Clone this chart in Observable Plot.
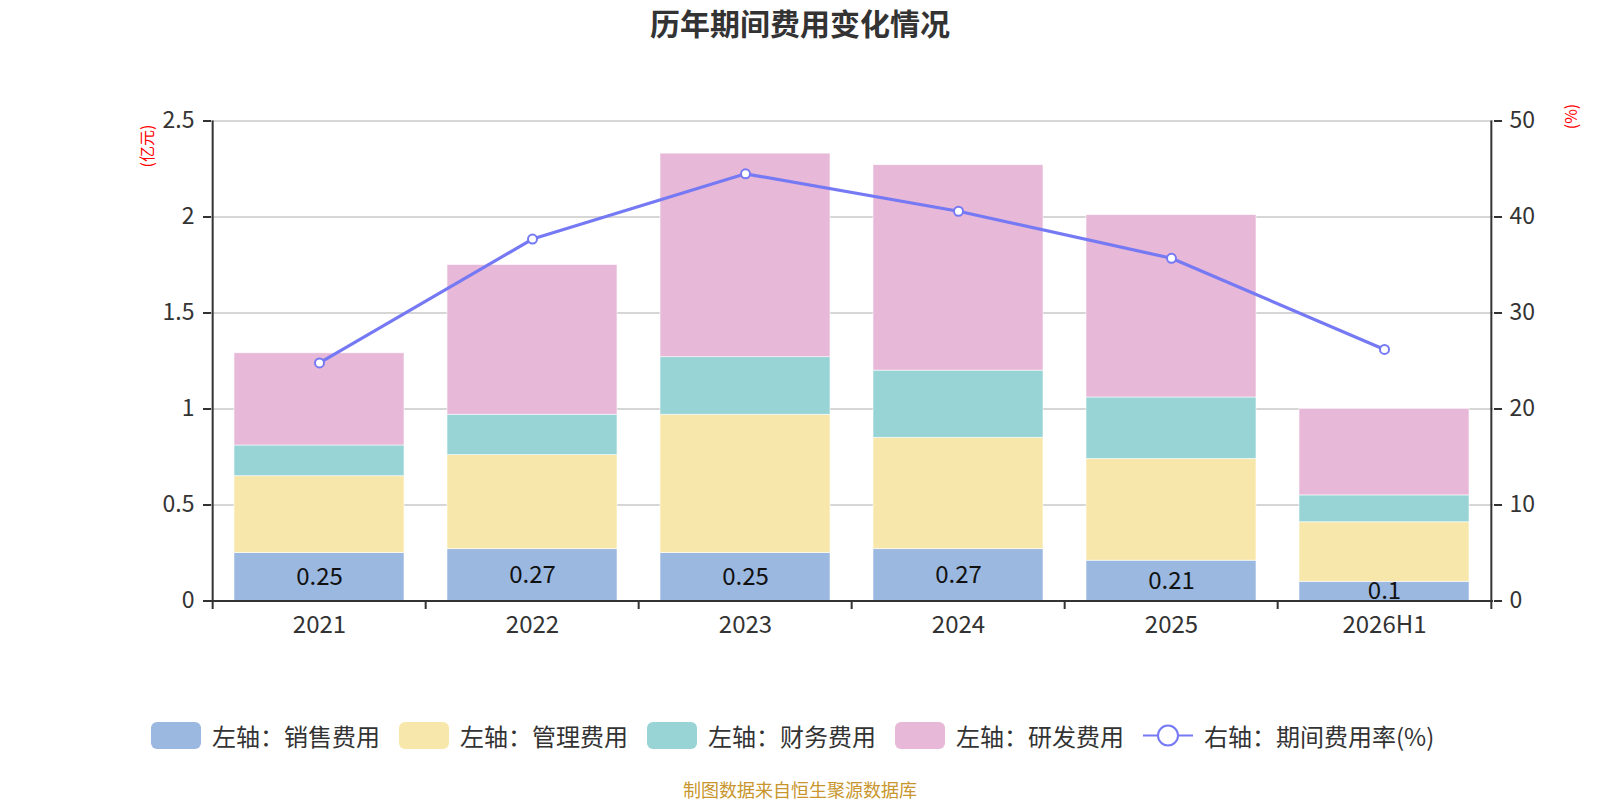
<!DOCTYPE html>
<html>
<head>
<meta charset="utf-8">
<script src="https://cdn.jsdelivr.net/npm/d3@7"></script>
<script src="https://cdn.jsdelivr.net/npm/@observablehq/plot@0.6"></script>
<style>
  html, body { margin: 0; padding: 0; background: #fff; }
  body { width: 1600px; height: 800px; position: relative; overflow: hidden;
         font-family: "Noto Sans CJK SC", "Noto Sans", sans-serif; color: #333; }
  #title { position: absolute; left: 0; top: 0; width: 1600px; height: 45px; line-height: 45px;
           text-align: center; font-size: 30px; font-weight: bold; color: #333; }
  #chart { position: absolute; left: 0; top: 46px; }
  #legend { position: absolute; left: 151px; top: 722px; height: 27px; display: flex; align-items: center; }
  .item { display: flex; align-items: center; margin-right: 19px; font-size: 24px; color: #333; }
  .sw { width: 50px; height: 27px; border-radius: 6px; margin-right: 11px; }
  .lineicon { width: 50px; height: 27px; margin-right: 11px; }
  #caption { position: absolute; left: 0; width: 1600px; top: 777px; text-align: center;
             font-size: 18px; color: #c8962d; line-height: 24px; }
</style>
</head>
<body>
<div id="title">历年期间费用变化情况</div>
<div id="chart"></div>
<div id="legend"></div>
<div id="caption">制图数据来自恒生聚源数据库</div>
<script>
const categories = ["2021", "2022", "2023", "2024", "2025", "2026H1"];
const sales   = [0.25, 0.27, 0.25, 0.27, 0.21, 0.10];
const admin   = [0.40, 0.49, 0.72, 0.58, 0.53, 0.31];
const finance = [0.16, 0.21, 0.30, 0.35, 0.32, 0.14];
const rd      = [0.48, 0.78, 1.06, 1.07, 0.95, 0.45];
const rate    = [24.8, 37.7, 44.5, 40.6, 35.7, 26.2];

const seriesNames = ["左轴：销售费用", "左轴：管理费用", "左轴：财务费用", "左轴：研发费用"];
const seriesColors = ["#9bb8e0", "#f8e7aa", "#98d4d5", "#e7b8d7"];
const lineName = "右轴：期间费用率(%)";
const lineColor = "#7679f4";
const leftTicks = [0, 0.5, 1, 1.5, 2, 2.5];
const leftUnit = "(亿元)";
const rightUnit = "(%)";

const seriesValues = [sales, admin, finance, rd];
const stacked = [];
seriesNames.forEach((name, s) => {
  categories.forEach((c, i) => stacked.push({year: c, series: name, value: seriesValues[s][i]}));
});
const rows = categories.map((c, i) => ({year: c, sales: sales[i], rate: rate[i]}));

const W = 1600, H = 600;
const mL = 211, mR = 107, mT = 74.5, mB = 45.5;
const plotH = H - mT - mB;
const step = (W - mL - mR) / categories.length;
const k = 2.5 / 50; // right axis → left axis
const last = categories[categories.length - 1];

const chart = Plot.plot({
  width: W, height: H,
  marginLeft: mL, marginRight: mR, marginTop: mT, marginBottom: mB,
  style: {fontFamily: '"Noto Sans CJK SC", "Noto Sans", sans-serif', color: "#333", background: "white", overflow: "visible"},
  x: {type: "band", domain: categories, paddingInner: 0.2, paddingOuter: 0.1},
  y: {domain: [0, 2.5]},
  color: {domain: seriesNames, range: seriesColors},
  marks: [
    Plot.gridY(leftTicks.filter(d => d > 0), {stroke: "#c8c8c8", strokeOpacity: 1, strokeWidth: 1.5}),
    Plot.barY(stacked, {x: "year", y: "value", fill: "series", stroke: "white", strokeWidth: 0.8, strokeOpacity: 0.7}),
    Plot.text(rows, {x: "year", y: d => d.sales / 2, text: d => String(d.sales), fontSize: 24, fill: "#111"}),
    Plot.line(rows, {x: "year", y: d => d.rate * k, stroke: lineColor, strokeWidth: 3.2}),
    Plot.dot(rows, {x: "year", y: d => d.rate * k, r: 4.5, fill: "white", stroke: lineColor, strokeWidth: 2}),
    Plot.ruleY([0], {stroke: "#333", strokeWidth: 2}),
    // left & right axis lines
    Plot.ruleX([categories[0]], {dx: -step / 2, insetBottom: -8.5, stroke: "#333", strokeWidth: 2}),
    Plot.ruleX([last], {dx: step / 2, insetBottom: -8.5, stroke: "#333", strokeWidth: 2}),
    // category boundary ticks
    Plot.ruleX(categories.slice(1), {dx: -step / 2, insetTop: plotH, insetBottom: -8.5, stroke: "#333", strokeWidth: 2}),
    Plot.axisX({tickSize: 0, tickPadding: 15, fontSize: 24, label: null}),
    Plot.axisY({anchor: "left", ticks: leftTicks, tickFormat: d => String(d), tickSize: 8, tickPadding: 9,
                strokeWidth: 2, fontSize: 23, label: null}),
    Plot.axisY({anchor: "right", ticks: leftTicks, tickFormat: d => String(Math.round(d / k)), tickSize: 8, tickPadding: 8,
                strokeWidth: 2, fontSize: 23, label: null}),
    Plot.text([leftUnit], {frameAnchor: "top-left", text: d => d, dx: -63.5, dy: 25, rotate: -90,
                           textAnchor: "middle", lineAnchor: "middle", fill: "red", fontSize: 16}),
    Plot.text([rightUnit], {frameAnchor: "top-right", text: d => d, dx: 78.5, dy: -4.5, rotate: -90,
                            textAnchor: "middle", lineAnchor: "middle", fill: "red", fontSize: 16})
  ]
});
document.getElementById("chart").appendChild(chart);

// legend
const legend = document.getElementById("legend");
seriesNames.forEach((name, i) => {
  const it = document.createElement("div");
  it.className = "item";
  it.innerHTML = `<div class="sw" style="background:${seriesColors[i]}"></div><span>${name}</span>`;
  legend.appendChild(it);
});
const li = document.createElement("div");
li.className = "item";
li.innerHTML = `<svg class="lineicon" viewBox="0 0 50 27"><line x1="0" y1="13.5" x2="50" y2="13.5" stroke="${lineColor}" stroke-width="2"/><circle cx="25" cy="13.5" r="10" fill="white" stroke="${lineColor}" stroke-width="2"/></svg><span>${lineName}</span>`;
legend.appendChild(li);
</script>
</body>
</html>
